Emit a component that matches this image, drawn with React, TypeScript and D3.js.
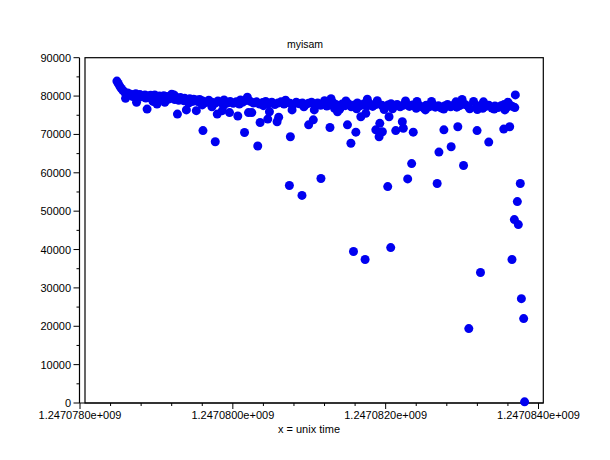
import * as d3 from "d3";

// unix time offsets (seconds after T0) and values
const T0 = 1247078000;

const bandPoints: [number, number][] = [
  [483, 83900], [500, 83300], [520, 82600], [540, 82000], [560, 81500], [585, 81000],
  [605, 80600], [625, 80800], [650, 80300], [665, 80500], [690, 79900], [704, 80200],
  [730, 80600], [744, 79600], [770, 80100], [783, 80400], [810, 79800], [822, 80100],
  [850, 80300], [861, 79500], [890, 80000], [900, 79700], [925, 80200], [939, 79400],
  [965, 79900], [978, 80300], [1005, 79600], [1018, 79200], [1040, 80000], [1057, 79700],
  [1080, 79300], [1096, 80100], [1120, 79600], [1135, 79900], [1160, 79200], [1174, 79700],
  [1200, 80500], [1213, 79500], [1240, 79100], [1252, 79800], [1280, 79300], [1292, 78900],
  [1315, 79600], [1331, 79200], [1355, 78800], [1370, 79400], [1395, 79000], [1409, 78700],
  [1435, 79300], [1448, 78900], [1475, 78600], [1487, 79200], [1510, 78800], [1526, 79000],
  [1550, 78500], [1566, 79100], [1605, 78700], [1645, 78300], [1685, 78900], [1725, 78400],
  [1765, 78100], [1805, 78700], [1845, 78300], [1885, 79000], [1925, 78200], [1965, 78600],
  [2005, 78100], [2045, 78500], [2085, 77900], [2125, 78400], [2165, 78800], [2190, 79700],
  [2230, 78600], [2270, 78200], [2310, 78500], [2350, 77900], [2390, 78300], [2430, 78600],
  [2470, 78000], [2510, 78400], [2550, 77800], [2590, 78200], [2630, 78500], [2670, 77900],
  [2710, 78300], [2750, 78100], [2790, 77800], [2830, 78400], [2870, 78000], [2910, 78200],
  [2950, 77700], [2990, 78100], [3030, 78400], [3070, 77900], [3110, 78200], [3150, 77600],
  [3190, 78100], [3230, 77400], [3270, 77900], [3285, 79300], [3310, 78300], [3350, 77800],
  [3390, 77300], [3400, 76600], [3430, 77900], [3470, 77500], [3510, 78000], [3550, 77200],
  [3590, 77700], [3630, 78200], [3670, 77500], [3710, 77900], [3750, 77400], [3760, 79200],
  [3790, 78000], [3830, 77300], [3870, 77800], [3950, 77600], [3980, 76500], [3990, 77100],
  [4030, 77700], [4070, 78000], [4110, 77400], [4150, 77800], [4190, 77200], [4230, 77600],
  [4270, 77900], [4310, 77300], [4350, 77700], [4410, 78600], [4450, 77400], [4490, 77000],
  [4520, 76400], [4530, 77600], [4570, 77200], [4610, 77800], [4650, 77100], [4690, 77500],
  [4730, 76900], [4770, 77400], [4810, 77800], [4850, 77200], [4890, 77600], [4930, 77100],
  [4970, 77500], [5000, 79100], [5040, 77800], [5080, 77300], [5150, 78600], [5190, 77000],
  [5200, 76500], [5230, 77500], [5270, 76800], [5310, 77300], [5350, 77600], [5390, 76900],
  [5430, 77400], [5470, 77000], [5510, 77500], [5550, 77800], [5560, 76400], [5590, 77100],
  [5630, 77600], [5660, 77300], [5690, 77000], [5697, 80300],
  // looser points along the band edges
  [955, 78600], [1110, 78400], [1230, 80300], [1420, 78200], [1600, 77700], [1880, 77600],
  [2100, 79000], [2400, 77500], [2690, 78900], [2930, 77200], [3200, 78800], [3330, 76800],
  [3480, 78700], [3620, 76700], [3890, 78800], [4090, 76700], [4260, 78700], [4400, 76800],
  [4600, 78600], [4760, 76600], [4920, 78500], [5100, 76700], [5280, 78500], [5420, 76600],
  [5600, 78400],
];

const scatterPoints: [number, number][] = [
  [596, 79400], [740, 78400], [878, 76600], [1008, 77900], [1275, 75300], [1392, 76400],
  [1522, 76200], [1609, 71000], [1726, 77200], [1770, 68100], [1796, 75300], [1862, 76200],
  [1957, 75700], [2065, 74800], [2153, 70500], [2205, 75700], [2248, 75700], [2326, 67000],
  [2357, 73100], [2457, 74000], [2479, 75900], [2579, 73300], [2600, 74500], [2753, 69400],
  [2775, 76400], [2740, 56700], [2905, 54100], [2992, 72500], [3053, 73800], [3066, 76400],
  [3153, 58500], [3271, 71800], [3370, 75900], [3500, 72500], [3545, 67700], [3579, 39500],
  [3610, 70600], [3675, 74600], [3731, 37400], [3740, 75500], [3871, 71200], [3923, 72900],
  [3957, 70700], [3914, 69400], [4027, 56400], [4044, 74600], [4066, 40500], [4132, 71000],
  [4218, 73300], [4231, 71600], [4288, 58400], [4340, 62400], [4361, 70600], [4674, 57200],
  [4697, 65400], [4762, 71200], [4857, 66800], [4944, 72000], [5019, 61900], [5088, 19400],
  [5196, 71000], [5241, 34000], [5349, 68000], [5545, 71400], [5623, 72000], [5653, 37400],
  [5684, 47800], [5723, 52500], [5736, 46500], [5762, 57200], [5776, 27200], [5806, 22000],
  [5818, 300],
];

const yTicks = [0, 10000, 20000, 30000, 40000, 50000, 60000, 70000, 80000, 90000];
const xTickLabels = ["1.2470780e+009", "1.2470800e+009", "1.2470820e+009", "1.2470840e+009"];
const xTicks = [T0, T0 + 2000, T0 + 4000, T0 + 6000];

const W = 610;
const H = 460;
const font = "'Liberation Sans', Arial, sans-serif";

export default function App() {
  const x = d3.scaleLinear().domain([T0, T0 + 6000]).range([80, 538.5]);
  const y = d3.scaleLinear().domain([0, 90000]).range([403, 57.7]);

  const xMinor = d3.range(0, 16).map((k) => T0 + k * 400);
  const yMinor = d3.range(0, 19).map((k) => k * 5000);

  const points = [...bandPoints, ...scatterPoints];

  const frameLeft = 85;
  const frameRight = 543.3;

  return (
    <svg
      width={W}
      height={H}
      style={{ position: "absolute", left: 0, top: 0, background: "#fff" }}
      fontFamily={font}
    >
      <rect x={0} y={0} width={W} height={H} fill="#fff" />
      <text x={305} y={48} fontSize={10.5} textAnchor="middle" fill="#000">
        myisam
      </text>

      {/* data box */}
      <rect
        x={frameLeft}
        y={y(90000)}
        width={frameRight - frameLeft}
        height={y(0) - y(90000)}
        fill="none"
        stroke="#000"
        strokeWidth={1.2}
      />

      {/* y axis */}
      <line x1={79.5} x2={79.5} y1={y(90000)} y2={y(0)} stroke="#000" strokeWidth={1.2} />
      {yMinor.map((v) => (
        <line
          key={"ym" + v}
          x1={79.5}
          x2={v % 10000 === 0 ? 73.5 : 76.5}
          y1={y(v)}
          y2={y(v)}
          stroke="#000"
        />
      ))}
      {yTicks.map((v) => (
        <text key={"yl" + v} x={71} y={y(v) + 4} fontSize={11} textAnchor="end" fill="#000">
          {v}
        </text>
      ))}

      {/* x axis */}
      <line x1={79.5} x2={frameRight} y1={y(0)} y2={y(0)} stroke="#000" strokeWidth={1.2} />
      {xMinor.map((t, i) => (
        <line
          key={"xm" + t}
          x1={x(t)}
          x2={x(t)}
          y1={y(0)}
          y2={y(0) + (i % 5 === 0 ? 6 : 3)}
          stroke="#000"
        />
      ))}
      {xTicks.map((t, i) => (
        <text key={"xl" + t} x={x(t)} y={419} fontSize={11} textAnchor="middle" fill="#000">
          {xTickLabels[i]}
        </text>
      ))}
      <text x={309} y={433} fontSize={11} textAnchor="middle" fill="#000">
        x = unix time
      </text>

      {points.map(([t, v], i) => (
        <circle key={i} cx={x(T0 + t)} cy={y(v)} r={4.5} fill="#0000f0" />
      ))}
    </svg>
  );
}
